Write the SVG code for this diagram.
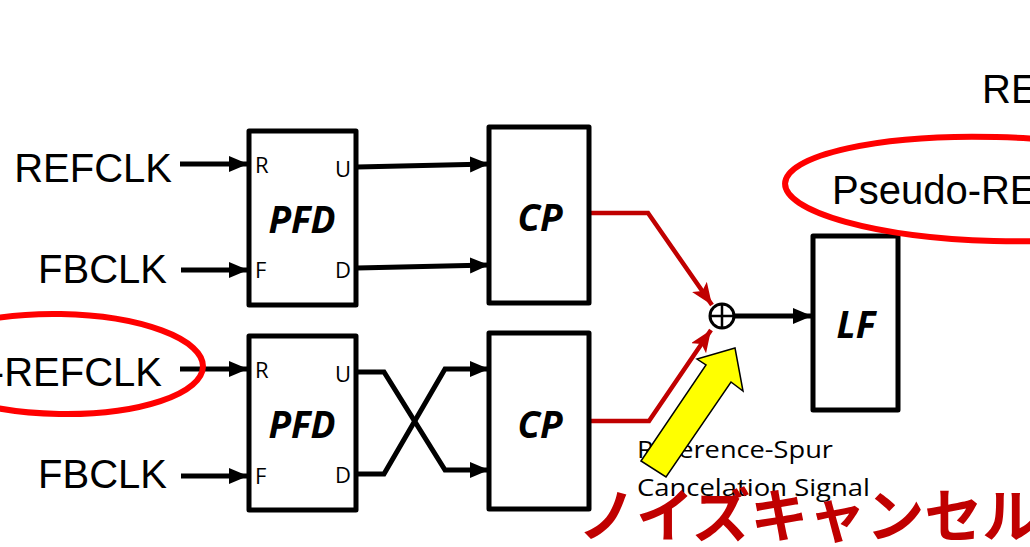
<svg xmlns="http://www.w3.org/2000/svg" width="1030" height="547" viewBox="0 0 1030 547">
<style>
.box{fill:#fff;stroke:#000;stroke-width:5;stroke-linejoin:round}
.sig{font-family:"Liberation Sans",Arial,sans-serif;font-size:40px;fill:#000}
.pin{font-family:"Open Sans","Noto Sans",sans-serif;font-size:22px;fill:#000}
.blk{font-family:"Open Sans","Noto Sans",sans-serif;font-size:37px;font-weight:bold;font-style:italic;fill:#000;text-anchor:middle}
.wire{fill:none;stroke:#000;stroke-width:5}
.red{fill:none;stroke:#c00000;stroke-width:4.5}
.ell{fill:none;stroke:#ff0000;stroke-width:6}
.note{font-family:"Open Sans","Noto Sans",sans-serif;font-size:23px;fill:#000}
</style>
<defs>
<marker id="ab" markerUnits="userSpaceOnUse" markerWidth="20" markerHeight="18" refX="19" refY="8" orient="auto">
<path d="M0,0 L19,8 L0,16 z" fill="#000"/>
</marker>
<marker id="ar" markerUnits="userSpaceOnUse" markerWidth="24" markerHeight="20" refX="22" refY="9" orient="auto">
<path d="M0,0 L22,9 L0,18 L5,9 z" fill="#c00000"/>
</marker>
</defs>
<rect width="1030" height="547" fill="#fff"/>

<g id="connectors">
<line class="wire" x1="180" y1="164" x2="248" y2="164" marker-end="url(#ab)"/>
<line class="wire" x1="181" y1="270" x2="248" y2="270" marker-end="url(#ab)"/>
<line class="wire" x1="180" y1="369" x2="248" y2="369" marker-end="url(#ab)"/>
<line class="wire" x1="181" y1="476" x2="248" y2="476" marker-end="url(#ab)"/>
<line class="wire" x1="357" y1="167" x2="489" y2="164" marker-end="url(#ab)"/>
<line class="wire" x1="357" y1="268" x2="489" y2="265" marker-end="url(#ab)"/>
<path class="wire" d="M357,372 L384,372 L445,470 L489,470" marker-end="url(#ab)"/>
<path class="wire" d="M357,474 L384,474 L445,369 L489,369" marker-end="url(#ab)"/>
<path class="red" d="M590,213 L648,213 L712,305" marker-end="url(#ar)"/>
<path class="red" d="M590,421 L649,421 L711,330" marker-end="url(#ar)"/>
<line class="wire" x1="734" y1="316" x2="812" y2="316" marker-end="url(#ab)"/>
</g>

<g id="labels-left">
<text class="sig" x="172" y="182" text-anchor="end">REFCLK</text>
<text class="sig" x="167" y="283" text-anchor="end">FBCLK</text>
<text class="sig" x="162" y="386" text-anchor="end">-REFCLK</text>
<text class="sig" x="167" y="488" text-anchor="end">FBCLK</text>
</g>

<g id="pfd1">
<rect class="box" x="249" y="131" width="107" height="174"/>
<text class="pin" x="255" y="173">R</text>
<text class="pin" x="255" y="278">F</text>
<text class="pin" x="351" y="177" text-anchor="end">U</text>
<text class="pin" x="351" y="278" text-anchor="end">D</text>
<text class="blk" x="302" y="233">PFD</text>
</g>

<g id="pfd2">
<rect class="box" x="249" y="336" width="107" height="174"/>
<text class="pin" x="255" y="378">R</text>
<text class="pin" x="255" y="484">F</text>
<text class="pin" x="351" y="382" text-anchor="end">U</text>
<text class="pin" x="351" y="483" text-anchor="end">D</text>
<text class="blk" x="302" y="438">PFD</text>
</g>

<g id="cp1">
<rect class="box" x="489" y="127" width="100" height="176"/>
<text class="blk" x="540" y="231">CP</text>
</g>

<g id="cp2">
<rect class="box" x="489" y="333" width="100" height="176"/>
<text class="blk" x="540" y="438">CP</text>
</g>

<g id="sum">
<circle cx="722" cy="316" r="12" fill="#fff" stroke="#000" stroke-width="3"/>
<line x1="710" y1="316" x2="734" y2="316" stroke="#000" stroke-width="2.5"/>
<line x1="722" y1="304" x2="722" y2="328" stroke="#000" stroke-width="2.5"/>
</g>

<g id="lf">
<rect class="box" x="813" y="236" width="85" height="174"/>
<text class="blk" x="856" y="338">LF</text>
</g>

<g id="top-right">
<text class="sig" x="982" y="103">RE</text>
<ellipse class="ell" cx="995" cy="189" rx="210" ry="52" transform="rotate(1.5 995 189)"/>
<text class="sig" x="832" y="204">Pseudo-RE</text>
</g>

<g id="left-ellipse">
<ellipse class="ell" cx="60" cy="364" rx="143" ry="50" transform="rotate(1 60 364)"/>
</g>

<g id="note">
<text class="note" x="637" y="458" textLength="196" lengthAdjust="spacingAndGlyphs">Reference-Spur</text>
<text class="note" x="637" y="496" textLength="233" lengthAdjust="spacingAndGlyphs">Cancelation Signal</text>
<polygon points="641,461 706,365 697,359 735,348 743,391 731,382 666,477" fill="#ffff00" stroke="#000" stroke-width="1.5" stroke-linejoin="miter"/>
<text x="578" y="537" font-family="'Noto Sans CJK JP',sans-serif" font-size="58" font-weight="bold" fill="#c00000">ノイズキャンセル</text>
</g>
</svg>
